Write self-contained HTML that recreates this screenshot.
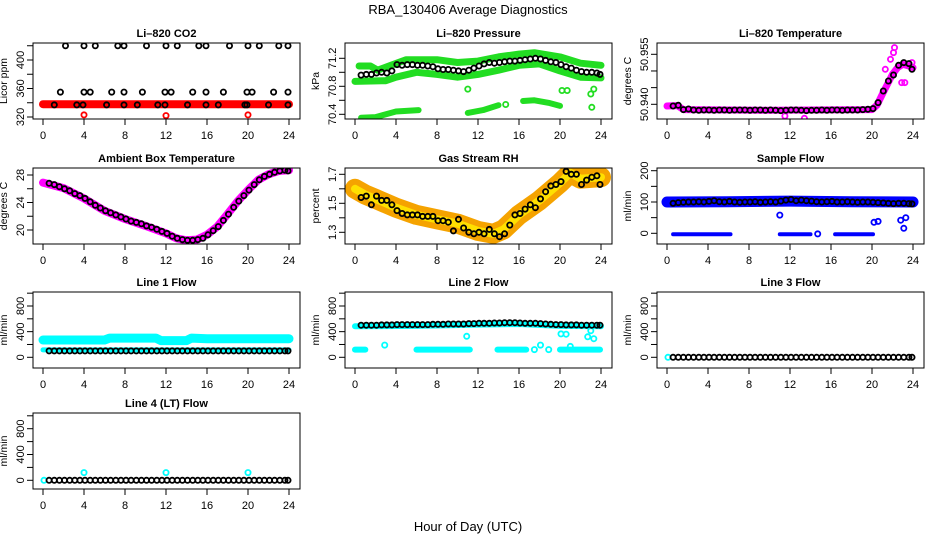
<!DOCTYPE html>
<html><head><meta charset="utf-8"><style>
html,body{margin:0;padding:0;background:#fff;}
svg{display:block;font-family:"Liberation Sans",sans-serif;}
</style></head><body>
<svg id="chart" width="936" height="540" viewBox="0 0 936 540">
<text x="468" y="14" text-anchor="middle" font-size="13">RBA_130406  Average Diagnostics</text>
<text x="468" y="531" text-anchor="middle" font-size="13">Hour of Day (UTC)</text>
</svg>
<script>
// ---- shared categories ----
const tB = [0.6,1.1,1.6,2.1,2.6,3.1,3.6,4.1,4.6,5.1,5.6,6.1,6.6,7.1,7.6,8.1,8.6,9.1,9.6,10.1,10.6,11.1,11.6,12.1,12.6,13.1,13.6,14.1,14.6,15.1,15.6,16.1,16.6,17.1,17.6,18.1,18.6,19.1,19.6,20.1,20.6,21.1,21.6,22.1,22.6,23.1,23.6,23.9];
const xTicks = [0,4,8,12,16,20,24];
// ---- CO2 ----
const co2T = [0.6,2.7,3.8,5.7,7.9,8.6,10.6,11.8,13.6,15.9,16.5,18.7,19.9,21.6,23.9, 2.2,4,5.1,7.3,7.9,10.1,12,13.1,15.2,15.9,18.2,20,21.1,23,23.9, 1.7,4,4.6,6.7,7.9,9.7,11.9,12.5,14.6,15.9,17.6,19.9,20.4,22.5,23.9, 1.1,3.3,3.9,6.2,7.9,9.2,11.2,11.9,14.1,15.9,17.1,19.7,19.9,22.0,23.9];
const co2V = [312,312,312,312,312,312,312,312,312,312,312,312,312,312,312, 420,420,420,420,420,420,420,420,420,420,420,420,420,420,420, 355,355,355,355,355,355,355,355,355,355,355,355,355,355,355, 337,337,337,337,337,337,337,337,337,337,337,337,337,337,337];
const co2BandT = [0,6,12,18,24];
const co2BandV = [338,338,338,338,338];
const co2RedT = [4,12,20];
const co2RedV = [323,322,323];
// ---- Pressure ----
const presV = [70.96,70.97,70.97,70.99,71.0,70.99,71.02,71.11,71.1,71.11,71.11,71.1,71.1,71.09,71.08,71.05,71.04,71.04,71.03,71.02,71.01,71.03,71.06,71.09,71.12,71.14,71.13,71.14,71.15,71.16,71.16,71.17,71.18,71.19,71.2,71.19,71.17,71.15,71.14,71.11,71.08,71.06,71.03,71.01,71.0,71.0,70.99,70.97];
const presUpT = [0.4,1.5,2.2,3.5,5,8,10,12,14,16,17.5,20,22,24];
const presUpV = [71.09,71.09,71.03,71.1,71.18,71.18,71.14,71.16,71.22,71.26,71.28,71.22,71.13,71.1];
const presLoT = [0,3,4,6,8,10,12,14,16,18,20,22,24];
const presLoV = [70.87,70.88,70.93,71.0,70.97,70.93,70.97,71.03,71.1,71.12,71.02,70.93,70.92];
const presSegAT = [0.6,2,4,6.2];
const presSegAV = [70.35,70.36,70.44,70.46];
const presSegBT = [11,12.5,14];
const presSegBV = [70.42,70.46,70.53];
const presSegCT = [16.4,17.5,19,20];
const presSegCV = [70.59,70.6,70.56,70.52];
const presOutT = [11,14.7,20.2,20.7,23,23.3,23.1];
const presOutV = [70.76,70.54,70.74,70.74,70.69,70.76,70.5];
// ---- Li-820 temperature ----
const tempV = [50.9395,50.9397,50.9384,50.9386,50.9383,50.9382,50.9383,50.9383,50.9382,50.9383,50.9383,50.9382,50.9383,50.9383,50.9383,50.9382,50.9383,50.9383,50.9382,50.9383,50.9382,50.9381,50.9382,50.9383,50.9383,50.9382,50.9381,50.9382,50.9382,50.9383,50.9382,50.9383,50.9383,50.9382,50.9383,50.9383,50.9383,50.9384,50.9385,50.9387,50.9405,50.944,50.947,50.9488,50.9517,50.9525,50.9522,50.9505];
const tempBandT = [0,1,1.6,10,20,20.5,21,21.5,22,22.5,23,23.6,24];
const tempBandV = [50.9395,50.9396,50.9384,50.9382,50.9384,50.9398,50.943,50.946,50.949,50.951,50.952,50.9515,50.951];
const tempOutT = [22.2,22.1,21.3,23.2,11.5,13.4,22.9,23.9,21.8];
const tempOutV = [50.957,50.9555,50.9505,50.9465,50.9365,50.9358,50.9465,50.9525,50.9535];
// ---- Ambient box temperature ----
const ambV = [26.8,26.6,26.3,26.0,25.7,25.3,25.0,24.6,24.1,23.6,23.2,22.8,22.5,22.2,21.9,21.6,21.3,21.1,20.9,20.6,20.4,20.1,19.8,19.5,19.1,18.8,18.6,18.5,18.5,18.6,18.8,19.3,19.9,20.5,21.4,22.3,23.3,24.2,25.0,25.8,26.6,27.3,27.8,28.1,28.4,28.6,28.7,28.6];
const ambBandT = [0,2,4,6,8,10,12,13,14,15,16,17,18,19,20,21,22,23,24];
const ambBandV = [26.9,26.1,24.6,22.8,21.6,20.6,19.5,18.8,18.5,18.6,19.3,20.5,22.3,24.2,25.8,27.3,28.1,28.6,28.7];
// ---- Gas stream RH ----
const rhV = [1.54,1.55,1.49,1.55,1.52,1.52,1.49,1.45,1.43,1.42,1.42,1.42,1.41,1.41,1.41,1.38,1.38,1.37,1.31,1.39,1.33,1.30,1.29,1.30,1.29,1.32,1.29,1.27,1.29,1.35,1.42,1.43,1.46,1.49,1.47,1.53,1.58,1.62,1.63,1.65,1.72,1.70,1.70,1.63,1.66,1.68,1.69,1.63];
const rhBandT = [0,1,2,4,6,8,10,12,13.5,14.5,16,18,20,21,22,24];
const rhBandV = [1.6,1.56,1.53,1.47,1.42,1.39,1.36,1.31,1.29,1.32,1.42,1.52,1.64,1.71,1.67,1.68];
// ---- Sample flow ----
const sfV = [96,98,99,100,100,101,100,102,104,101,100,102,100,99,100,100,101,99,100,101,100,103,106,108,104,106,104,103,101,100,101,102,100,100,101,100,99,100,100,99,98,97,96,95,96,96,95,94];
const sfBandT = [0,6,12,18,24];
const sfBandV = [100,101,103,101,100];
const sfSegs = [[0.6,6.2],[11,14],[16.4,20.1]];
const sfOutT = [14.7,11,20.2,20.6,22.8,23.1,23.3];
const sfOutV = [-2,58,35,38,42,16,50];
// ---- Line flows ----
const l1V = [100,100,100,100,100,100,100,100,100,100,100,100,100,100,100,100,100,100,100,100,100,100,100,100,100,100,100,100,100,100,100,100,100,100,100,100,100,100,100,100,100,100,100,100,100,100,100,100];
const l1BandT = [0,6,6.5,11,11.5,14,14.5,16,24];
const l1BandV = [270,270,300,300,260,260,300,290,290];
const l1LowT = [0,24];
const l1LowV = [115,115];
const l2V = [500,500,500,500,505,505,505,510,510,510,510,510,510,510,515,515,515,520,520,520,520,525,525,530,530,530,535,535,540,540,540,535,530,530,530,525,520,515,510,510,505,505,505,500,500,500,500,500];
const l2BandT = [0,6,12,16,20,24];
const l2BandV = [485,490,510,520,490,485];
const l2Segs = [[0,1.0],[6.0,11.2],[13.9,16.7],[20.0,23.9]];
const l2SegV = 120;
const l2OutT = [2.9,10.9,17.5,18.1,18.9,20.1,20.6,21.0,22.7,23.0,23.3];
const l2OutV = [190,327,120,190,120,365,360,170,320,415,290];
const l3V = [0,0,0,0,0,0,0,0,0,0,0,0,0,0,0,0,0,0,0,0,0,0,0,0,0,0,0,0,0,0,0,0,0,0,0,0,0,0,0,0,0,0,0,0,0,0,0,0];
const l4V = [0,0,0,0,0,0,0,0,0,0,0,0,0,0,0,0,0,0,0,0,0,0,0,0,0,0,0,0,0,0,0,0,0,0,0,0,0,0,0,0,0,0,0,0,0,0,0,0];
const l4OutT = [0.1,4,12,20];
const l4OutV = [0,120,120,120];

const svg = document.getElementById('chart');
const NS = 'http://www.w3.org/2000/svg';
function mk(tag, parent){ const e = document.createElementNS(NS, tag); parent.appendChild(e); return e; }

const rowTop = [43,168,292,413];
const panels = [
 {key:'co2',c:0,r:0,title:'Li\u2013820 CO2',ylab:'Licor ppm',ticks:[320,340,360,380,400,420],labels:[320,360,400],a:[320,117],b:[400,60]},
 {key:'pressure',c:1,r:0,title:'Li\u2013820 Pressure',ylab:'kPa',ticks:[70.4,70.6,70.8,71.0,71.2],labels:['70.4','70.8','71.2'],a:[70.4,114.3],b:[71.2,58.3]},
 {key:'temperature',c:2,r:0,title:'Li\u2013820 Temperature',ylab:'degrees C',ticks:[50.940,50.945,50.950,50.955],labels:['50.940','50.955'],a:[50.940,104.3],b:[50.955,54.3]},
 {key:'ambient',c:0,r:1,title:'Ambient Box Temperature',ylab:'degrees C',ticks:[20,22,24,26,28],labels:[20,24,28],a:[20,230],b:[28,175]},
 {key:'rh',c:1,r:1,title:'Gas Stream RH',ylab:'percent',ticks:[1.3,1.4,1.5,1.6,1.7],labels:['1.3','1.5','1.7'],a:[1.3,232.3],b:[1.7,174.3]},
 {key:'sample',c:2,r:1,title:'Sample Flow',ylab:'ml/min',ticks:[0,50,100,150,200],labels:[0,100,200],a:[0,233.3],b:[200,170.7]},
 {key:'line1',c:0,r:2,title:'Line 1 Flow',ylab:'ml/min',ticks:[0,200,400,600,800,1000],labels:[0,400,800],a:[0,357.3],b:[800,306]},
 {key:'line2',c:1,r:2,title:'Line 2 Flow',ylab:'ml/min',ticks:[0,200,400,600,800,1000],labels:[0,400,800],a:[0,357.3],b:[800,306]},
 {key:'line3',c:2,r:2,title:'Line 3 Flow',ylab:'ml/min',ticks:[0,200,400,600,800,1000],labels:[0,400,800],a:[0,357.3],b:[800,306]},
 {key:'line4',c:0,r:3,title:'Line 4 (LT) Flow',ylab:'ml/min',ticks:[0,200,400,600,800,1000],labels:[0,400,800],a:[0,480.3],b:[800,428.7]}
];
function xS(p,h){ return 33 + 312*p.c + 10 + h*10.25; }
function yS(p,v){ return p.a[1] + (v - p.a[0])*(p.b[1]-p.a[1])/(p.b[0]-p.a[0]); }

function band(p,g,T,V,color,w,name){
  const pl = mk('polyline', g);
  
  
  pl.setAttribute('points', T.map((t,i)=>xS(p,t).toFixed(1)+','+yS(p,V[i]).toFixed(1)).join(' '));
  pl.setAttribute('fill','none'); pl.setAttribute('stroke',color); pl.setAttribute('stroke-width',w);
  pl.setAttribute('stroke-linecap','round'); pl.setAttribute('stroke-linejoin','round');
}
function pts(p,g,T,V,color,r,sw,name){
  T.forEach((t,i)=>{
    const c = mk('circle', g);
    
    
    c.setAttribute('cx', xS(p,t).toFixed(1)); c.setAttribute('cy', yS(p,V[i]).toFixed(1));
    c.setAttribute('r', r); c.setAttribute('fill','none'); c.setAttribute('stroke',color); c.setAttribute('stroke-width',sw);
  });
}

panels.forEach(p=>{
  const L = 33 + 312*p.c, T = rowTop[p.r], W = 267, H = 76;
  const g = mk('g', svg);
  
  
  const cp = mk('clipPath', g); cp.setAttribute('id','clip-'+p.key);
  const cr = mk('rect', cp); cr.setAttribute('x',L); cr.setAttribute('y',T); cr.setAttribute('width',W); cr.setAttribute('height',H);
  const title = mk('text', g);
  
  
  title.setAttribute('x', L + W/2); title.setAttribute('y', T - 6); title.setAttribute('text-anchor','middle');
  title.setAttribute('font-size','11'); title.setAttribute('font-weight','bold'); title.textContent = p.title;
  const yl = mk('text', g);
  
  
  const ylc = T + H/2;
  yl.setAttribute('transform','translate('+(L-26)+','+ylc+') rotate(-90)');
  yl.setAttribute('text-anchor','middle'); yl.setAttribute('font-size','10.5'); yl.textContent = p.ylab;
  xTicks.forEach(h=>{
    const tk = mk('line', g);
    
    
    tk.setAttribute('x1', xS(p,h)); tk.setAttribute('x2', xS(p,h)); tk.setAttribute('y1', T+H); tk.setAttribute('y2', T+H+6);
    tk.setAttribute('stroke','#000');
    const lb = mk('text', g);
    
    
    lb.setAttribute('x', xS(p,h)); lb.setAttribute('y', T+H+20); lb.setAttribute('text-anchor','middle'); lb.setAttribute('font-size','11');
    lb.textContent = h;
  });
  p.ticks.forEach(v=>{
    const tk = mk('line', g);
    
    
    tk.setAttribute('x1', L); tk.setAttribute('x2', L-6); tk.setAttribute('y1', yS(p,v)); tk.setAttribute('y2', yS(p,v));
    tk.setAttribute('stroke','#000');
  });
  p.labels.forEach(v=>{
    const lb = mk('text', g);
    
    
    const yy = yS(p, parseFloat(v));
    lb.setAttribute('transform','translate('+(L-9)+','+yy+') rotate(-90)');
    lb.setAttribute('text-anchor','middle'); lb.setAttribute('font-size','11'); lb.textContent = v;
  });
  const d = mk('g', g);
  
  
  d.setAttribute('clip-path','url(#clip-'+p.key+')');
  p.g = d;
  const box = mk('rect', g);
  
  
  box.setAttribute('x',L); box.setAttribute('y',T); box.setAttribute('width',W); box.setAttribute('height',H);
  box.setAttribute('fill','none'); box.setAttribute('stroke','#000'); box.setAttribute('stroke-width','1');
});
const P = {}; panels.forEach(p=>P[p.key]=p);
const SW = 1.8;

band(P.co2,P.co2.g,co2BandT,co2BandV,'#ff0000',8,'co2-raw-band');
pts(P.co2,P.co2.g,co2RedT,co2RedV,'#ff0000',2.6,SW,'co2-raw-outlier');
pts(P.co2,P.co2.g,co2T,co2V,'#000',2.6,SW,'co2-average-point');

band(P.pressure,P.pressure.g,presUpT,presUpV,'#22dd22',7,'pressure-upper-band');
band(P.pressure,P.pressure.g,presLoT,presLoV,'#22dd22',7,'pressure-lower-band');
band(P.pressure,P.pressure.g,presSegAT,presSegAV,'#22dd22',6,'pressure-low-segment');
band(P.pressure,P.pressure.g,presSegBT,presSegBV,'#22dd22',6,'pressure-low-segment');
band(P.pressure,P.pressure.g,presSegCT,presSegCV,'#22dd22',6,'pressure-low-segment');
pts(P.pressure,P.pressure.g,presOutT,presOutV,'#22dd22',2.6,SW,'pressure-outlier');
pts(P.pressure,P.pressure.g,tB,presV,'#000',2.6,SW,'pressure-average-point');

band(P.temperature,P.temperature.g,tempBandT,tempBandV,'#ff00ff',7,'temperature-raw-band');
pts(P.temperature,P.temperature.g,tempOutT,tempOutV,'#ff00ff',2.6,SW,'temperature-outlier');
pts(P.temperature,P.temperature.g,tB,tempV,'#000',2.6,SW,'temperature-average-point');

band(P.ambient,P.ambient.g,ambBandT,ambBandV,'#ff00ff',8,'ambient-raw-band');
pts(P.ambient,P.ambient.g,tB,ambV,'#000',2.6,SW,'ambient-average-point');

band(P.rh,P.rh.g,rhBandT,rhBandV,'#f5a300',20,'rh-raw-band');
band(P.rh,P.rh.g,rhBandT,rhBandV,'#ffe000',8,'rh-raw-band-core');
pts(P.rh,P.rh.g,tB,rhV,'#000',2.6,SW,'rh-average-point');

band(P.sample,P.sample.g,sfBandT,sfBandV,'#0000ff',11,'sample-flow-band');
sfSegs.forEach(s=>band(P.sample,P.sample.g,s,[-3,-3],'#0000ff',4,'sample-flow-zero-segment'));
pts(P.sample,P.sample.g,sfOutT,sfOutV,'#0000ff',2.6,SW,'sample-flow-outlier');
pts(P.sample,P.sample.g,tB,sfV,'#000',2.6,SW,'sample-flow-average-point');

band(P.line1,P.line1.g,l1BandT,l1BandV,'#00ffff',9,'line1-raw-band');
band(P.line1,P.line1.g,l1LowT,l1LowV,'#00ffff',5,'line1-low-band');
pts(P.line1,P.line1.g,tB,l1V,'#000',2.6,SW,'line1-average-point');

band(P.line2,P.line2.g,l2BandT,l2BandV,'#00ffff',6,'line2-raw-band');
l2Segs.forEach(s=>band(P.line2,P.line2.g,s,[l2SegV,l2SegV],'#00ffff',6,'line2-low-segment'));
pts(P.line2,P.line2.g,l2OutT,l2OutV,'#00ffff',2.6,SW,'line2-outlier');
pts(P.line2,P.line2.g,tB,l2V,'#000',2.6,SW,'line2-average-point');

pts(P.line3,P.line3.g,[0.1],[0],'#00ffff',2.6,SW,'line3-raw-point');
pts(P.line3,P.line3.g,tB,l3V,'#000',2.6,SW,'line3-average-point');

pts(P.line4,P.line4.g,l4OutT,l4OutV,'#00ffff',2.6,SW,'line4-raw-point');
pts(P.line4,P.line4.g,tB,l4V,'#000',2.6,SW,'line4-average-point');
</script>
</body></html>
